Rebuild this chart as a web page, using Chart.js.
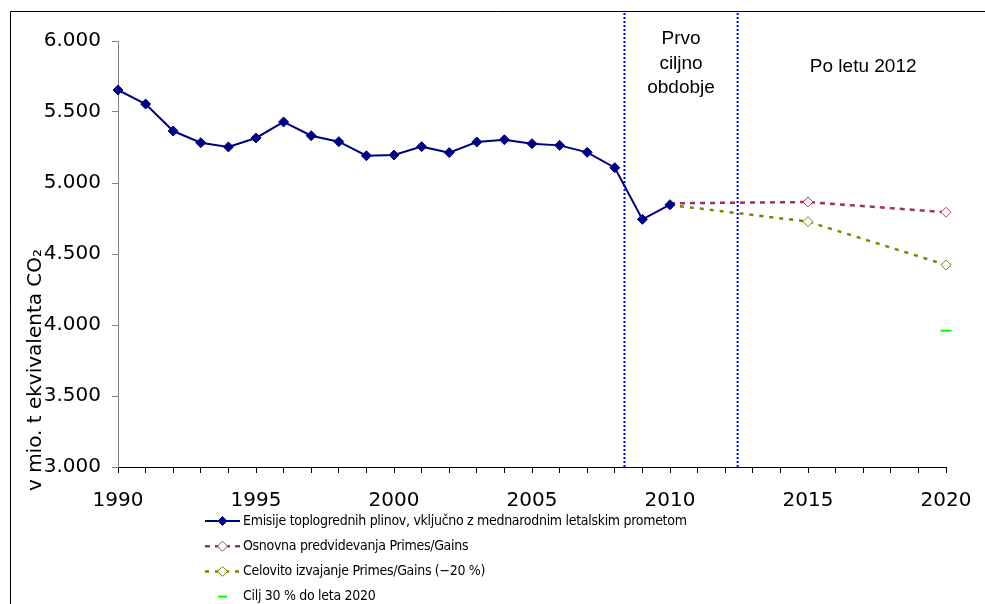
<!DOCTYPE html>
<html>
<head>
<meta charset="utf-8">
<script src="https://cdn.jsdelivr.net/npm/chart.js@4.4.0/dist/chart.umd.min.js"></script>
<style>
  body { margin: 0; background: #fff; }
</style>
</head>
<body>
<canvas id="myChart" width="985" height="604"></canvas>
<script>
// podatki (mio. t ekvivalenta CO2)
const years = [1990, 1991, 1992, 1993, 1994, 1995, 1996, 1997, 1998, 1999, 2000,
               2001, 2002, 2003, 2004, 2005, 2006, 2007, 2008, 2009, 2010]
const emissions = [5655, 5556, 5366, 5284, 5254, 5317, 5430, 5333, 5291, 5192, 5197,
                   5256, 5214, 5289, 5305, 5277, 5265, 5216, 5108, 4744, 4847]
const projYears = [2010, 2015, 2020]
const baseline = [4857, 4866, 4794]
const integrated = [4845, 4728, 4423]
const targetYears = [2020]
const target = [3960]
const periodBounds = [2008.35, 2012.45]
const periodLabels = [["Prvo", "ciljno", "obdobje"], ["Po letu 2012"]]
const legendLabels = [
  "Emisije toplogrednih plinov, vključno z mednarodnim letalskim prometom",
  "Osnovna predvidevanja Primes/Gains",
  "Celovito izvajanje Primes/Gains (\u221220 %)",
  "Cilj 30 % do leta 2020"
]
const yTitle = "v mio. t ekvivalenta CO\u2082"

function pairs(xs, ys) {
  let out = []
  for (let i = 0; i < xs.length; i++) out.push({ x: xs[i], y: ys[i] })
  return out
}

function fmt(v) {
  return String(v).replace(/\B(?=(\d{3})+(?!\d))/g, ".")
}

const datasets = [
  {
    label: legendLabels[0],
    data: pairs(years, emissions),
    borderColor: "#000080",
    backgroundColor: "#000080",
    borderWidth: 2,
    pointStyle: "rectRot",
    pointRadius: 5,
    pointBorderWidth: 1,
    clip: false
  },
  {
    label: legendLabels[1],
    data: pairs(projYears, baseline),
    borderColor: "#993366",
    borderWidth: 2.5,
    borderDash: [5, 5],
    pointStyle: "rectRot",
    pointRadius: [0, 5, 5],
    pointBorderColor: "#CC3366",
    pointBackgroundColor: "#fff",
    pointBorderWidth: 1,
    clip: false
  },
  {
    label: legendLabels[2],
    data: pairs(projYears, integrated),
    borderColor: "#808000",
    borderWidth: 2.5,
    borderDash: [4, 6],
    pointStyle: "rectRot",
    pointRadius: [0, 5, 5],
    pointBorderColor: "#808000",
    pointBackgroundColor: "#fff",
    pointBorderWidth: 1,
    clip: false
  },
  {
    label: legendLabels[3],
    data: pairs(targetYears, target),
    showLine: false,
    pointStyle: "line",
    pointRadius: 5.5,
    pointBorderColor: "#00FF00",
    pointBackgroundColor: "#00FF00",
    pointBorderWidth: 2,
    clip: false
  }
]

// navpične meje obdobij
for (const b of periodBounds) {
  datasets.push({
    label: "meja",
    data: [{ x: b, y: 3000 }, { x: b, y: 6210 }],
    borderColor: "#0000FF",
    borderWidth: 2,
    borderDash: [2, 2],
    pointRadius: 0,
    clip: false
  })
}

const extras = {
  id: "extras",
  afterDraw(chart) {
    const ctx = chart.ctx
    const xs = chart.scales.x
    ctx.save()

    // okvir
    ctx.strokeStyle = "#000"
    ctx.lineWidth = 1
    ctx.beginPath()
    ctx.moveTo(10.5, 604)
    ctx.lineTo(10.5, 11.5)
    ctx.lineTo(985, 11.5)
    ctx.stroke()

    // naslov osi y
    ctx.save()
    ctx.translate(41, 370)
    ctx.rotate(-Math.PI / 2)
    ctx.font = '20px "DejaVu Sans"'
    ctx.fillStyle = "#000"
    ctx.textAlign = "center"
    ctx.textBaseline = "alphabetic"
    ctx.fillText(yTitle, 0, 0)
    ctx.restore()

    // oznake obdobij
    ctx.font = '19px "Liberation Sans"'
    ctx.fillStyle = "#000"
    ctx.textAlign = "center"
    ctx.textBaseline = "alphabetic"
    const mid = xs.getPixelForValue((periodBounds[0] + periodBounds[1]) / 2)
    periodLabels[0].forEach((t, i) => ctx.fillText(t, mid, 44 + i * 24.6))
    ctx.fillText(periodLabels[1][0], xs.getPixelForValue(2017), 72)

    // legenda
    ctx.font = '14px "DejaVu Sans Condensed"'
    ctx.letterSpacing = "-0.3px"
    ctx.textAlign = "left"
    ctx.textBaseline = "middle"
    for (let i = 0; i < 4; i++) {
      const ds = chart.data.datasets[i]
      const y = 521 + i * 25.2
      if (i < 3) {
        ctx.strokeStyle = ds.borderColor
        ctx.lineWidth = i == 0 ? 2 : 2.5
        ctx.setLineDash(ds.borderDash || [])
        ctx.beginPath()
        ctx.moveTo(205, y)
        ctx.lineTo(240, y)
        ctx.stroke()
        ctx.setLineDash([])
        ctx.fillStyle = i == 0 ? ds.backgroundColor : "#fff"
        ctx.strokeStyle = i == 0 ? ds.borderColor : ds.pointBorderColor
        ctx.lineWidth = 1
        Chart.helpers.drawPoint(ctx, { pointStyle: "rectRot", radius: i == 0 ? 4.5 : 5, borderWidth: 1 }, 222.5, y)
      } else {
        ctx.strokeStyle = ds.pointBorderColor
        ctx.lineWidth = 2
        ctx.beginPath()
        ctx.moveTo(218, y)
        ctx.lineTo(227, y)
        ctx.stroke()
      }
      ctx.fillStyle = "#000"
      ctx.fillText(legendLabels[i], 243, y)
    }
    ctx.restore()
  }
}

new Chart(document.getElementById("myChart"), {
  type: "line",
  data: { datasets },
  options: {
    responsive: false,
    animation: false,
    devicePixelRatio: 1,
    layout: { padding: { left: 40, top: 41, right: 39, bottom: 0 } },
    plugins: { legend: { display: false }, tooltip: { enabled: false } },
    scales: {
      x: {
        type: "linear",
        min: 1990,
        max: 2020,
        afterFit: (s) => { s.height = 137; s.paddingLeft = 0; s.paddingRight = 0 },
        ticks: {
          stepSize: 1,
          autoSkip: false,
          maxRotation: 0,
          padding: 16,
          color: "#000",
          font: { family: "DejaVu Sans", size: 20 },
          callback: (v) => (v % 5 === 0 ? String(v) : "")
        },
        grid: { drawOnChartArea: false, tickLength: 6, color: "#000" },
        border: { color: "#000", width: 1 }
      },
      y: {
        min: 3000,
        max: 6000,
        afterFit: (s) => { s.width = 78 },
        ticks: {
          stepSize: 500,
          padding: 11,
          color: "#000",
          font: { family: "DejaVu Sans", size: 20 },
          callback: (v) => fmt(v)
        },
        grid: { drawOnChartArea: false, tickLength: 6, color: "#808080" },
        border: { color: "#808080", width: 1 }
      }
    }
  },
  plugins: [extras]
})
</script>
</body>
</html>
